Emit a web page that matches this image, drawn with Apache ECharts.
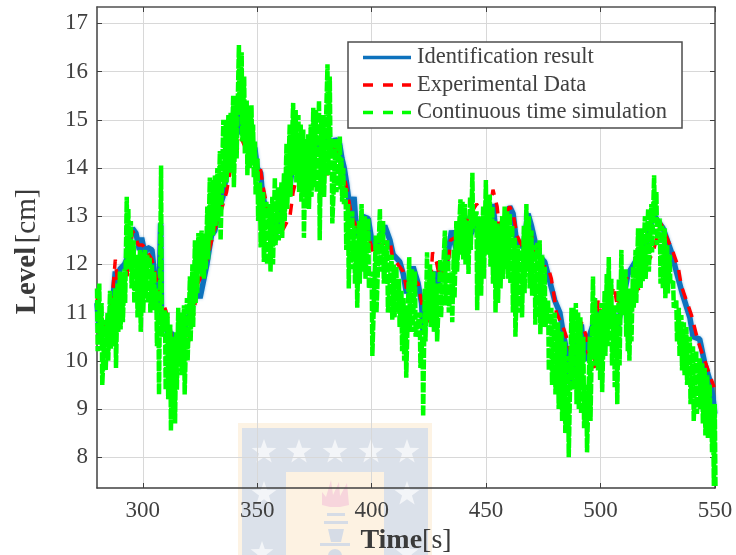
<!DOCTYPE html>
<html>
<head>
<meta charset="utf-8">
<style>
  html, body { margin: 0; padding: 0; background: #fff; }
  #chart { width: 736px; height: 555px; }
</style>
<script src="https://cdn.jsdelivr.net/npm/echarts@6/dist/echarts.min.js"></script>
</head>
<body>
<div id="chart"></div>
<script>
const xTicks = [300, 350, 400, 450, 500, 550];
const yTicks = [8, 9, 10, 11, 12, 13, 14, 15, 16, 17];

const idTime = [280,281,283,284.5,286,287,288,289,290,292,293,294,295.5,297,298.5,299.5,301,302,304,305,306.5,307,307.8,308.2,309,310,311.5,312.5,313,314.5,315,316,318,319,320,321,322,324,325,328,330,331.5,333,335,337,339,341,342,343,344,346,348,349,350,351.5,352,353,355,356,357,358,360,362,364,366,367,369,371,372,374,376,378,379,381,382,384,386,387,388,389,391.2,392.3,393,394,396,398.5,400.7,403,405.7,408,409.4,412.3,413.8,415.2,418.1,420.3,421.8,422.5,425,427.6,428.5,429.8,432.7,434.9,437,440.7,443,446.5,448,451,453,454.5,458,460.3,461.8,463.2,466.2,468.3,469.8,472.7,475.6,477.8,480,482.2,483.6,485,487,489,491.6,493,495,498.9,501,503.5,506.2,507,510,512,516.4,520,523,525,527.3,531,533.1,536,539,540.4,543.3,545.5,547.7,549.1,549.9];
const idLevel = [11.2,10.6,10.7,10.5,11.0,11.3,11.85,11.5,11.9,12.0,12.1,12.45,12.75,12.65,12.3,12.55,12.2,12.35,12.3,11.85,11.5,11.0,12.85,10.9,10.95,10.7,10.5,10.6,10.0,9.9,10.5,10.1,10.5,10.9,10.9,11.0,11.2,11.5,11.3,12.0,12.6,12.7,13.1,13.4,14.0,14.3,14.9,14.7,15.2,15.0,14.9,14.5,14.4,14.0,13.9,13.6,13.3,13.1,13.0,12.8,12.6,13.0,13.4,13.5,14.3,14.3,14.2,14.1,13.7,14.2,14.4,14.6,14.5,14.7,14.4,14.6,14.5,14.2,14.0,13.7,12.9,13.4,12.9,12.6,13.0,12.95,12.3,12.5,12.8,12.5,12.2,12.05,11.8,11.4,11.95,11.6,11.2,10.55,11.2,11.85,11.5,11.8,12.05,12.7,12.3,13.0,12.6,12.95,12.75,12.6,13.25,12.55,12.7,13.2,13.05,12.5,12.35,13.05,12.8,12.2,12.05,11.65,11.25,11.0,10.6,10.25,9.45,10.3,10.75,10.0,10.5,11.05,10.7,11.0,10.95,10.6,11.3,11.8,12.15,12.4,13.05,12.9,12.75,12.25,11.85,11.35,10.9,10.5,10.45,9.95,9.6,9.25,8.9];

const expTime = [280,282,283.5,285,286,287,288,288.6,289,290,291,292,293,294,295.5,297,298,300,302,304,305,306.5,308,310,311.5,313,315.5,318,320,322,324,327,329.3,331.2,333.5,336.6,338,341.7,343.2,345,351.2,352.6,355.5,357.7,361,364.3,365.7,367.2,370,373.7,374.9,375.2,378.8,380.3,381.8,383.2,386,389,391.2,394,397,400.7,404,408,409.1,413.8,415.2,418,420.3,421.8,424.7,426.6,428.3,429.8,433.8,434.4,438,442,445.8,448,452.3,453,454.8,455.7,460.3,461.8,463.5,466.9,469,471.2,472,477,478.5,479.5,480.7,483.6,485.4,486.8,489.4,491.6,493.5,494.6,497.2,498.9,501,505.9,507.4,511.7,517.1,518.1,522.9,526.3,531.7,533.9,535.3,539.7,542.6,547,549.6];
const expLevel = [11.3,10.9,10.65,10.7,10.9,11.5,12.1,12.1,11.6,11.4,11.7,11.55,11.7,12.1,12.7,12.55,12.4,12.4,12.25,12.1,11.9,11.6,11.3,11.05,10.8,10.35,10.0,10.2,10.4,10.9,11.6,11.9,12.35,12.7,13.0,13.5,13.9,14.45,14.6,14.4,14.05,13.6,12.9,12.6,12.7,13.0,13.5,13.8,13.7,13.55,13.9,14.2,14.05,13.8,14.2,14.55,14.2,13.6,13.0,12.7,12.8,12.25,12.4,12.5,12.15,11.85,11.5,11.7,11.6,11.2,10.75,12.25,12.05,11.7,12.15,12.5,12.6,12.95,13.25,13.1,13.3,13.55,13.2,12.8,13.2,13.05,12.6,12.25,12.7,12.4,11.95,11.95,11.7,11.4,11.0,10.7,10.45,10.2,10.1,10.8,10.55,10.15,9.85,11.25,10.8,11.55,11.1,11.75,11.45,11.8,12.25,12.85,12.25,11.95,11.55,10.95,10.4,9.8,9.45];

// 外沿的尖峰
const simTime = [280,281,282,283.5,285.7,288,290,292,293,293.7,296,298.8,301,303,305,306.8,308,309.7,312,313.8,315.5,318,320.6,322.8,324.3,325.7,327.2,329.3,331.5,333.7,335.2,337.4,339.5,342,343.2,345.4,347.5,349,351.2,352.6,355.5,357.7,360.6,362.8,365.7,368,370.1,372.3,374.5,377,378.9,380.7,381.7,382.5,386.1,387.6,389.7,391.5,393.4,395.6,398.5,400,403.6,405,408.7,410.8,413,414.8,416.4,418.9,421,422.2,424.2,426.9,428.3,432,434.9,437,438.8,440.7,442,444,445.8,447.5,449.9,451.6,453.8,456,458.1,460.3,462.5,465.4,467.6,469.8,471.2,473.4,475.6,477.1,480,482.9,485.8,487.3,489.2,491.2,493.8,495.3,496.7,498.6,500.4,501.8,503.6,505.9,507,509.1,510.9,512.3,514.2,516.4,518.1,520.8,522.2,523.4,524.4,525.9,528,530.2,531.7,533.1,535.3,537.5,540.4,543.3,545.5,547.7,549.2,549.9];
const simHigh = [11.5,11.6,11.2,10.85,11.45,11.5,11.85,11.9,13.4,13.15,12.5,12.3,12.3,12.15,11.85,11.2,14.05,11.05,10.75,10.5,11.1,11.15,11.75,12.5,12.65,12.7,12.65,13.8,13.85,14.35,15.0,15.1,15.5,16.55,16.4,15.4,15.3,14.55,13.7,13.5,13.25,13.8,13.7,14.5,15.35,15.1,14.8,14.7,15.25,15.4,15.1,16.15,15.9,14.6,14.65,14.0,13.25,13.1,12.4,13.25,12.95,11.85,13.15,12.9,12.2,11.95,11.45,11.15,12.15,11.85,11.0,10.5,12.25,11.85,11.6,12.7,11.85,12.9,13.35,13.25,12.9,13.9,13.1,12.9,13.75,13.45,12.9,12.8,13.2,13.05,12.55,12.3,13.25,12.7,12.4,12.5,11.95,11.25,11.0,10.6,10.1,11.1,11.2,10.9,9.5,10.5,11.75,10.9,11.2,11.45,12.15,11.15,10.9,12.3,11.9,11.15,11.95,12.75,12.75,13.15,13.25,13.85,13.5,12.95,12.75,12.2,11.65,11.25,10.95,10.7,10.3,10.05,9.85,9.5,8.8,9.1];
const simLow = [10.2,10.4,9.5,9.8,10.25,9.85,10.65,11.2,12.0,11.9,11.2,10.6,11.35,11.0,11.05,9.3,10.5,9.4,8.55,8.7,9.9,9.3,10.4,11.2,11.8,11.75,11.9,12.5,12.8,12.5,13.6,14.0,13.6,15.1,14.55,13.85,14.2,13.45,12.35,12.05,11.85,12.4,12.55,13.15,13.85,13.5,12.55,13.15,13.6,12.5,13.4,13.85,14.35,12.85,13.55,13.25,11.5,12.2,11.1,11.85,11.5,10.1,11.85,11.6,10.85,11.0,10.2,9.65,10.6,10.5,9.85,8.85,10.85,10.6,10.4,11.15,10.8,11.85,12.2,12.0,11.8,12.75,11.05,11.35,12.2,11.95,11.0,11.5,11.9,11.6,10.5,10.9,11.85,11.35,10.75,10.55,10.7,9.8,9.3,8.75,8.0,9.6,9.1,8.9,8.1,8.75,10.1,9.8,9.35,10.1,10.65,9.45,9.1,10.95,10.5,10.0,11.1,11.55,11.65,11.85,12.25,13.0,12.4,11.6,11.3,11.6,11.1,10.4,9.8,9.5,8.75,9.0,8.45,8.5,7.4,7.4];

// 尖峰之间的主体
const simBodyTime = [284.6,286.8,289,291,294.8,297.4,299.9,302,304,305.9,310.8,312.9,314.6,316.7,319.3,321.7,323.5,326.4,328.2,330.4,332.6,336.3,338.4,340.7,344.3,346.4,348.2,350.1,354,356.6,359.1,361.7,364.2,366.8,369,371.2,373.4,375.7,378,384.3,386.8,388.6,390.6,392.4,394.5,397,401.8,406.8,409.7,411.9,413.9,417.6,423.2,425.5,430,433.4,435.9,439.7,443,446.6,448.7,452.7,454.9,457,459.2,461.4,463.9,466.5,468.7,472.3,474.5,478.5,481.4,484.3,488.2,490.2,492.5,497.6,499.5,502.7,504.7,508,511.6,513.2,515.3,517.2,519.4,526.9,529.1,534.2,536.4,539,541.8,544.4,546.6,548.4];
const simBodyHigh = [11.0,11.3,11.6,11.8,12.9,12.2,12.25,12.2,12.0,11.5,11.0,10.5,10.6,11.0,11.3,12.0,12.5,12.6,13.2,13.75,14.0,15.0,15.15,15.5,15.9,15.3,14.9,14.2,13.3,13.4,13.6,13.9,14.9,15.2,14.9,14.6,14.9,15.2,15.1,14.6,14.2,13.6,13.1,12.8,12.9,13.0,12.6,12.5,12.0,11.7,11.3,11.9,11.5,12.0,12.1,12.2,12.3,13.3,13.4,13.0,13.2,13.2,12.85,13.0,13.1,12.8,12.4,12.8,13.0,12.45,12.2,11.1,10.8,10.4,11.1,11.0,10.5,11.3,11.0,11.8,11.7,11.7,11.5,11.5,12.3,12.75,13.0,12.8,12.4,11.1,10.8,10.5,10.2,9.95,9.7,9.1];
const simBodyLow = [10.0,10.3,10.6,10.8,11.5,10.9,11.0,11.2,11.1,10.3,9.2,8.9,9.4,9.7,10.0,10.7,11.4,11.7,12.1,12.6,12.9,13.7,13.9,14.2,14.3,14.0,13.8,12.9,12.0,12.0,12.5,12.9,13.4,13.7,13.3,13.3,13.4,13.5,13.7,13.5,13.3,12.3,11.9,11.6,11.6,11.7,11.0,11.0,10.9,10.7,10.0,10.6,10.4,10.7,10.9,11.0,11.3,12.1,12.3,11.5,11.7,11.6,11.2,11.7,11.7,11.0,11.0,11.4,11.5,10.9,10.7,9.5,9.0,8.5,9.4,9.0,8.6,9.9,9.6,10.3,9.9,9.9,10.2,10.4,11.2,11.5,11.7,11.5,11.4,10.1,9.7,9.1,8.9,8.7,8.4,8.1];

// 仿真曲线: 每个时刻上下来回, 形成密集的锯齿
const simColumns = simTime.map((t, i) => [t, simHigh[i], simLow[i]])
  .concat(simBodyTime.map((t, i) => [t, simBodyHigh[i], simBodyLow[i]]))
  .sort((a, b) => a[0] - b[0]);
const simLine = [];
simColumns.forEach(c => {
  simLine.push([c[0], c[1]]);
  simLine.push([c[0] + 0.3, c[2]]);
});
const pair = (ts, vs) => ts.map((t, i) => [t, vs[i]]);

const serif = 'Liberation Serif';
const textColor = '#404040';

function star (cx, cy, r) {
  const pts = [];
  for (let i = 0; i < 10; i++) {
    const rr = i % 2 ? r * 0.4 : r;
    const a = -Math.PI / 2 + i * Math.PI / 5;
    pts.push([cx + rr * Math.cos(a), cy + rr * Math.sin(a)]);
  }
  return { type: 'polygon', silent: true, z: -1, shape: { points: pts }, style: { fill: '#f3f5f8' } };
}
function box (x, y, width, height, fill) {
  return { type: 'rect', silent: true, z: -1, shape: { x, y, width, height }, style: { fill } };
}

// 背景校徽水印
const logo = [
  box(238, 423, 194, 132, '#fdf3e4'),
  box(242, 428, 186, 127, '#dbe1ea'),
  box(286, 472, 98, 83, '#fdf2e2'),
  star(264, 452, 13), star(299, 452, 13), star(335, 452, 13), star(371, 452, 13), star(407, 452, 13),
  star(264, 494, 13), star(407, 494, 13), star(262, 553, 12), star(407, 553, 12),
  { type: 'polygon', silent: true, z: -1, shape: { points: [[322,505],[322,492],[326,497],[331,480],[333,495],[339,482],[340,496],[347,483],[349,505],[340,507],[330,507]] }, style: { fill: '#f7d5dc' } },
  box(327, 513, 18, 3, '#d6dce6'),
  box(324, 521, 24, 3, '#d6dce6'),
  { type: 'polygon', silent: true, z: -1, shape: { points: [[328,529],[344,529],[341,542],[331,542]] }, style: { fill: '#d6dce6' } },
  box(320, 543, 30, 3, '#d6dce6'),
  { type: 'circle', silent: true, z: -1, shape: { cx: 335, cy: 556, r: 7 }, style: { fill: '#d6dce6' } },
];

// 图例里的线段: 指定 icon 后不再画系列线型, 这里用路径画出
const solidIcon = 'path://M0,0H48V3.5H0Z';
const dashIcon = 'path://M0,0H10V3.5H0Z M20,0H30V3.5H20Z M39,0H48V3.5H39Z';

const chart = echarts.init(document.getElementById('chart'));
chart.setOption({
  animation: false,
  backgroundColor: '#fff',
  graphic: logo,
  grid: { left: 97, right: 21, top: 7, bottom: 67, show: false, outerBoundsMode: 'none' },
  legend: {
    left: 348,
    top: 42,
    orient: 'vertical',
    itemWidth: 48,
    itemHeight: 12,
    itemGap: 4.5,
    padding: [4, 15, 4, 15],
    backgroundColor: '#fff',
    borderColor: '#4d4d4d',
    borderWidth: 1.5,
    borderRadius: 0,
    selectedMode: false,
    textStyle: { fontFamily: serif, fontSize: 22.5, color: textColor, padding: [0, 0, 0, 1] },
    data: [
      { name: 'Identification result', icon: solidIcon },
      { name: 'Experimental Data', icon: dashIcon },
      { name: 'Continuous time simulation', icon: dashIcon },
    ],
  },
  xAxis: [{
    type: 'value',
    min: 280,
    max: 550,
    name: '{b|Time}{r|[s]}',
    nameLocation: 'middle',
    nameGap: 38,
    nameTextStyle: {
      rich: {
        b: { fontFamily: serif, fontSize: 28, fontWeight: 'bold', color: '#3a3a3a' },
        r: { fontFamily: serif, fontSize: 28, color: '#3a3a3a' },
      },
    },
    axisLine: { onZero: false, lineStyle: { color: '#404040', width: 1.5 } },
    axisTick: { inside: true, length: 5, lineStyle: { color: '#404040' }, customValues: xTicks },
    axisLabel: { fontFamily: serif, fontSize: 23, color: textColor, margin: 11, customValues: xTicks },
    splitLine: { show: true, lineStyle: { color: '#d8d8d8', width: 1 } },
  }, {
    type: 'value',
    position: 'top',
    min: 280,
    max: 550,
    axisLine: { onZero: false, lineStyle: { color: '#505050', width: 1.5 } },
    axisTick: { inside: true, length: 5, lineStyle: { color: '#404040' }, customValues: xTicks },
    axisLabel: { show: false },
    splitLine: { show: false },
  }],
  yAxis: [{
    type: 'value',
    min: 7.36,
    max: 17.34,
    name: '{b|Level} {r|[cm]}',
    nameLocation: 'middle',
    nameGap: 55,
    nameTextStyle: {
      padding: [0, 8, 0, 0],
      rich: {
        b: { fontFamily: serif, fontSize: 29, fontWeight: 'bold', color: '#3a3a3a' },
        r: { fontFamily: serif, fontSize: 29, color: '#3a3a3a' },
      },
    },
    axisLine: { onZero: false, lineStyle: { color: '#404040', width: 1.5 } },
    axisTick: { inside: true, length: 5, lineStyle: { color: '#404040' }, customValues: yTicks },
    axisLabel: { fontFamily: serif, fontSize: 23, color: textColor, margin: 9, customValues: yTicks },
    splitLine: { show: true, lineStyle: { color: '#d8d8d8', width: 1 } },
  }, {
    type: 'value',
    position: 'right',
    min: 7.36,
    max: 17.34,
    axisLine: { onZero: false, lineStyle: { color: '#505050', width: 1.5 } },
    axisTick: { inside: true, length: 5, lineStyle: { color: '#404040' }, customValues: yTicks },
    axisLabel: { show: false },
    splitLine: { show: false },
  }],
  series: [
    {
      name: 'Identification result',
      type: 'line',
      symbol: 'none',
      data: pair(idTime, idLevel),
      lineStyle: { color: '#0d72bd', width: 5.5, shadowColor: 'rgba(13,114,189,0.45)', shadowBlur: 3 },
      itemStyle: { color: '#0d72bd' },
    },
    {
      name: 'Experimental Data',
      type: 'line',
      symbol: 'none',
      data: pair(expTime, expLevel),
      lineStyle: { color: '#ff0000', width: 3.5, type: [11, 8] },
      itemStyle: { color: '#ff0000' },
    },
    {
      name: 'Continuous time simulation',
      type: 'line',
      symbol: 'none',
      data: simLine,
      lineStyle: { color: '#00ff00', width: 4.5, type: [10, 1.5] },
      itemStyle: { color: '#00ff00' },
    },
  ],
});
</script>
</body>
</html>
